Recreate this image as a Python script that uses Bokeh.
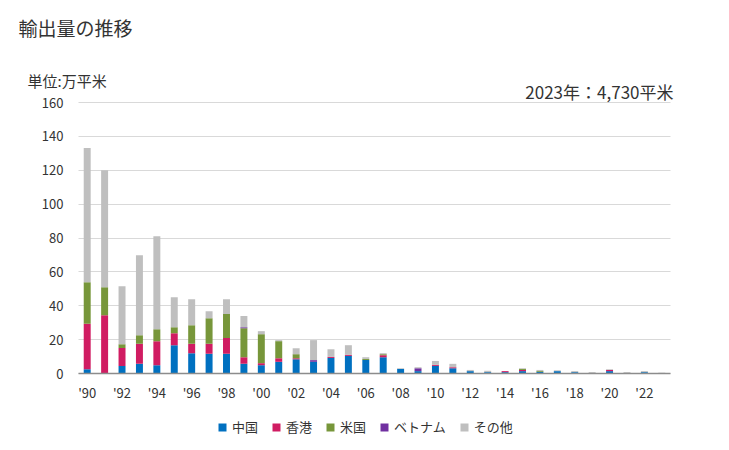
from bokeh.plotting import figure
from bokeh.models import Legend, FixedTicker, Range1d, LinearAxis, Label
from bokeh.embed import file_html
from bokeh.resources import INLINE

years = list(range(1990, 2024))
china = [2.5, 0, 4.5, 5.7, 4.9, 16.7, 12.0, 11.6, 11.6, 5.7,
         4.9, 6.9, 8.4, 6.9, 9.2, 10.4, 8.0, 9.6, 2.7, 1.4,
         4.5, 3.1, 1.4, 0.8, 0.8, 1.4, 1.0, 1.4, 0.8, 0,
         1.4, 0, 0.8, 0]
hongkong = [26.8, 34.4, 10.6, 11.8, 14.2, 7.1, 5.5, 5.9, 9.4, 3.9,
            1.2, 2.1, 0.6, 0, 0.6, 0.6, 0, 1.2, 0, 0,
            0.6, 0.6, 0, 0, 0.6, 0.7, 0, 0, 0, 0,
            0.7, 0, 0, 0]
usa = [24.6, 16.5, 2.2, 5.1, 7.0, 3.5, 11.0, 15.1, 14.2, 17.1,
       17.1, 10.1, 2.4, 0, 0, 0, 0.6, 0.6, 0, 0,
       0, 0, 0, 0, 0, 0.6, 0.5, 0, 0, 0,
       0, 0, 0, 0]
vietnam = [0, 0, 0, 0, 0, 0, 0, 0, 0, 0.6,
           0, 0, 0, 1.0, 0, 0, 0, 0, 0, 1.7,
           0, 0, 0, 0, 0, 0, 0, 0, 0, 0,
           0, 0, 0, 0]
other = [79.3, 69.1, 34.2, 47.2, 54.9, 17.7, 15.3, 4.1, 8.6, 6.7,
         1.8, 0.6, 3.5, 11.8, 4.5, 5.7, 1.0, 0.6, 0.4, 0.6,
         2.3, 2.0, 0.7, 0.8, 0, 0.4, 0.6, 0.5, 0.6, 0.8,
         0.4, 0.8, 0.6, 0.47]

series_keys = ["china", "hongkong", "usa", "vietnam", "other"]
series_names = ["中国", "香港", "米国", "ベトナム", "その他"]
colors = ["#0070c0", "#d01c62", "#77963a", "#7030a0", "#bfbfbf"]

tick_years = list(range(1990, 2024, 2))
tick_labels = ["'90", "'92", "'94", "'96", "'98", "'00", "'02", "'04", "'06",
               "'08", "'10", "'12", "'14", "'16", "'18", "'20", "'22"]
y_ticks = [0, 20, 40, 60, 80, 100, 120, 140, 160]

title_text = "輸出量の推移"
unit_text = "単位:万平米"
note_text = "2023年：4,730平米"

FONT = "Noto Sans CJK JP"
TXT = "#333333"

# ---- layout geometry (pixels) ----
W, H = 729, 450
PLOT_L, PLOT_R, PLOT_T, PLOT_B = 78, 670, 102, 373
x_lo, x_hi = years[0] - 0.5, years[-1] + 0.5
y_lo, y_hi = 0, 160
ppx = (PLOT_R - PLOT_L) / (x_hi - x_lo)
ppy = (PLOT_B - PLOT_T) / (y_hi - y_lo)
xr = Range1d(x_lo - PLOT_L / ppx, x_lo - PLOT_L / ppx + W / ppx)
yr = Range1d(y_lo - (H - PLOT_B) / ppy, y_lo - (H - PLOT_B) / ppy + H / ppy)

data = dict(year=years, china=china, hongkong=hongkong, usa=usa,
            vietnam=vietnam, other=other)

p = figure(width=W, height=H, output_backend="svg", toolbar_location=None,
           x_range=xr, y_range=yr, x_axis_type=None, y_axis_type=None,
           min_border=0, min_border_left=0, min_border_right=0,
           min_border_top=0, min_border_bottom=0)
p.outline_line_color = None
p.background_fill_color = "white"
p.border_fill_color = "white"

# y axis whose inward ticks act as the horizontal grid lines
yaxis = LinearAxis(fixed_location=x_lo, ticker=FixedTicker(ticks=y_ticks),
                   axis_line_color=None,
                   major_tick_in=PLOT_R - PLOT_L, major_tick_out=0,
                   major_tick_line_color="#d9d9d9", major_tick_line_width=1,
                   minor_tick_line_color=None,
                   major_label_text_font=FONT, major_label_text_font_size="13px",
                   major_label_text_color=TXT, major_label_standoff=15,
                   level="underlay")
p.add_layout(yaxis, "left")

renderers = p.vbar_stack(series_keys, x="year", width=0.4, source=data,
                         color=colors, line_color=None)

xaxis = LinearAxis(fixed_location=y_lo, ticker=FixedTicker(ticks=tick_years),
                   bounds=(x_lo, x_hi),
                   major_label_overrides={y: l for y, l in zip(tick_years, tick_labels)},
                   axis_line_color="#8c8c8c", axis_line_width=1.5,
                   major_tick_line_color=None, minor_tick_line_color=None,
                   major_label_text_font=FONT, major_label_text_font_size="13px",
                   major_label_text_color=TXT, major_label_standoff=3)
p.add_layout(xaxis, "below")

# texts (screen units measured from the bottom-left corner)
p.add_layout(Label(x=18, y=H - 27, x_units="screen", y_units="screen",
                   text=title_text, text_font=FONT, text_font_size="19px",
                   text_color=TXT, text_baseline="middle"))
p.add_layout(Label(x=27, y=H - 80, x_units="screen", y_units="screen",
                   text=unit_text, text_font=FONT, text_font_size="15px",
                   text_color=TXT, text_baseline="middle"))
p.add_layout(Label(x=673, y=H - 91, x_units="screen", y_units="screen",
                   text=note_text, text_font=FONT, text_font_size="17px",
                   text_color=TXT, text_baseline="middle", text_align="right"))

legend = Legend(items=[(n, [r]) for n, r in zip(series_names, renderers)],
                location=(217, 14), orientation="horizontal",
                glyph_width=10, glyph_height=10, label_standoff=5, spacing=13,
                padding=0, margin=0, border_line_color=None,
                background_fill_alpha=0, label_text_font=FONT,
                label_text_font_size="13px", label_text_color=TXT)
p.add_layout(legend, "center")

open("out.html", "w").write(file_html(p, INLINE))
